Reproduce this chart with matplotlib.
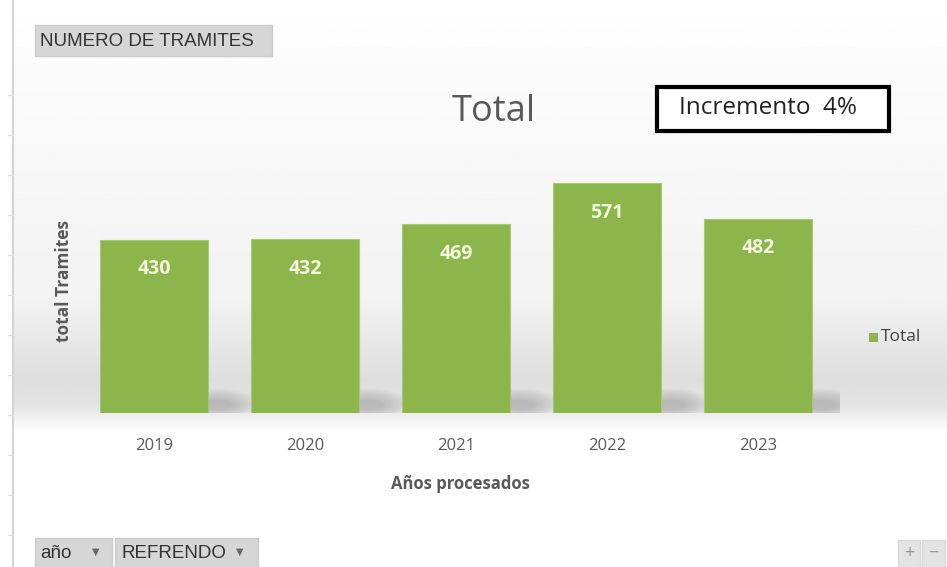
import matplotlib.pyplot as plt
from matplotlib.patches import Ellipse
import numpy as np

plt.rcParams['font.family'] = ['Open Sans', 'DejaVu Sans']

years = ['2019', '2020', '2021', '2022', '2023']
totals = [430, 432, 469, 571, 482]
increment_text = 'Incremento  4%'

W, H = 947, 567
fig = plt.figure(figsize=(W / 100, H / 100), dpi=100)


def fx(px):
    return px / W


def fy(py):
    return 1 - py / H


def box(x0, y0, x1, y1, fc, ec, lw=1, z=5):
    fig.patches.append(plt.Rectangle((fx(x0), fy(y1)), fx(x1 - x0), fy(y0) - fy(y1),
                                     transform=fig.transFigure, facecolor=fc,
                                     edgecolor=ec, linewidth=lw, zorder=z))


# background gradient (Excel pivot chart style)
bg = fig.add_axes([0, 0, 1, 1], zorder=0)
bg.set_axis_off()
rows = np.linspace(0, H, 400)
stops_y = [0, 60, 300, 380, 405, 432, H]
stops_v = [1.0, 0.985, 0.95, 0.87, 0.89, 1.0, 1.0]
vals = np.interp(rows, stops_y, stops_v)
grad = np.tile(vals[:, None], (1, 2))
bg.imshow(grad, cmap='gray', vmin=0, vmax=1, aspect='auto',
          extent=[fx(14), 1, 0, 1], origin='upper')
bg.set_xlim(0, 1)
bg.set_ylim(0, 1)
# left edge line with small ticks
bg.plot([fx(13), fx(13)], [0, 1], color='#d4d4d4', lw=1.5)
for ty in range(95, 560, 40):
    bg.plot([fx(8), fx(13)], [fy(ty), fy(ty)], color='#e0e0e0', lw=1)

# main axes
left_px, right_px, top_px, bot_px = 80, 840, 171, 413
ax = fig.add_axes([fx(left_px), fy(bot_px), fx(right_px - left_px), fy(top_px) - fy(bot_px)], zorder=2)
ax.patch.set_alpha(0)
x = np.arange(len(years))
spacing = 151.0
ax.set_xlim((left_px - 154) / spacing, (right_px - 154) / spacing)
ax.set_ylim(0, 600)

# soft shadows behind bars
for xi in x:
    for k in range(8):
        ax.add_patch(Ellipse((xi + 0.42, 20), 0.55 - k * 0.05, 80 - k * 8,
                             facecolor='#707070', edgecolor='none', alpha=0.05, zorder=1))

bars = ax.bar(x, totals, width=0.715, color='#8cb54b', edgecolor='#a9c873',
              linewidth=0.8, zorder=3)
for xi, v in zip(x, totals):
    ax.text(xi, v - 74, str(v), ha='center', va='center', color='#f3f8de',
            fontsize=14, fontweight='bold', zorder=4)

for s in ax.spines.values():
    s.set_visible(False)
ax.set_yticks([])
ax.set_xticks(x)
ax.set_xticklabels(years, fontsize=12, color='#595959')
ax.tick_params(axis='x', length=0, pad=18)
ax.set_xlabel('Años procesados', fontsize=12, fontweight='bold', color='#595959', labelpad=15)

fig.text(fx(64), fy(281), 'total Tramites', rotation=90, ha='center', va='center',
         fontsize=12.5, fontweight='bold', color='#595959')

# title
fig.text(fx(494), fy(112), 'Total', ha='center', va='center', fontsize=26, color='#595959')

# increment box
box(657, 87, 889, 131, 'white', 'black', lw=3)
fig.text(fx(679), fy(108), increment_text, ha='left', va='center', fontsize=17.5,
         color='#222222', zorder=6)

# legend
box(869, 333, 878, 342, '#8cb54b', 'none')
fig.text(fx(881), fy(337), 'Total', ha='left', va='center', fontsize=12.5, color='#404040')

# field buttons
lib = ['Liberation Sans', 'DejaVu Sans']
box(35, 25, 272, 56, '#d6d6d6', '#cccccc')
fig.text(fx(40), fy(41), 'NUMERO DE TRAMITES', ha='left', va='center', fontsize=13.5,
         color='#333333', family=lib, zorder=6)
box(35, 538, 112, 570, '#d6d6d6', '#cccccc')
fig.text(fx(40), fy(553), 'año', ha='left', va='center', fontsize=13.5,
         color='#333333', family=lib, zorder=6)
fig.text(fx(92), fy(552), '\u25bc', ha='left', va='center', fontsize=7,
         color='#666666', family=['DejaVu Sans'], zorder=6)
box(115, 538, 258, 570, '#d6d6d6', '#cccccc')
fig.text(fx(121), fy(553), 'REFRENDO', ha='left', va='center', fontsize=13.5,
         color='#333333', family=lib, zorder=6)
fig.text(fx(236), fy(552), '\u25bc', ha='left', va='center', fontsize=7,
         color='#666666', family=['DejaVu Sans'], zorder=6)
box(898, 540, 920, 570, '#e3e3e3', '#d8d8d8')
fig.text(fx(909), fy(553), '+', ha='center', va='center', fontsize=13, color='#999999', zorder=6)
box(922, 540, 945, 570, '#e3e3e3', '#d8d8d8')
fig.text(fx(933), fy(553), '\u2212', ha='center', va='center', fontsize=13, color='#999999', zorder=6)

fig.savefig('out.png', dpi=100)
